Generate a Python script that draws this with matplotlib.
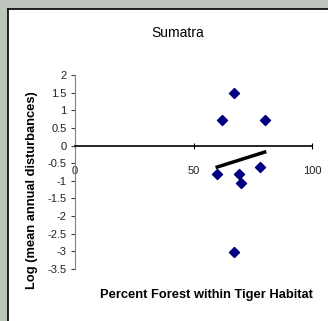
import numpy as np
import matplotlib
matplotlib.use('Agg')
import matplotlib.pyplot as plt
from matplotlib.patches import Rectangle

plt.rcParams['font.family'] = ['Liberation Sans', 'DejaVu Sans']

# percent forest vs log of mean annual disturbances
forest_pct = [67, 62, 80, 60, 69, 70, 78, 67]
log_disturb = [1.5, 0.72, 0.73, -0.8, -0.8, -1.05, -0.6, -3.03]

x_ticks = [0, 50, 100]
y_ticks = [2, 1.5, 1, 0.5, 0, -0.5, -1, -1.5, -2, -2.5, -3, -3.5]

W, H = 328, 321
fig = plt.figure(figsize=(W / 100, H / 100), dpi=100)
fig.patch.set_facecolor('#bcc4bc')

# white chart panel with a thin black edge on top and left
panel = Rectangle((8 / W, 0), 1, 1 - 9 / H, transform=fig.transFigure,
                  facecolor='white', edgecolor='none', zorder=-10)
fig.patches.append(panel)
fig.add_artist(plt.Line2D([8 / W, 8 / W], [0, 1 - 9 / H], color='black', lw=1.2,
                          transform=fig.transFigure, zorder=-5))
fig.add_artist(plt.Line2D([8 / W, 1], [1 - 9 / H, 1 - 9 / H], color='black', lw=1.2,
                          transform=fig.transFigure, zorder=-5))

ax = fig.add_axes([75 / W, 1 - 269 / H, (312 - 75) / W, (269 - 75) / H])
ax.set_facecolor('none')

ax.scatter(forest_pct, log_disturb, marker='D', s=26, color='#000080', zorder=3)

# linear trend line across the data range
slope, intercept = np.polyfit(forest_pct, log_disturb, 1)
xs = np.array([min(forest_pct), max(forest_pct)])
ax.plot(xs, slope * xs + intercept, color='black', lw=2.5, zorder=2)

ax.set_xlim(0, 100)
ax.set_ylim(-3.5, 2)
ax.set_xticks(x_ticks)
ax.set_yticks(y_ticks)
ax.set_yticklabels([('%g' % v) for v in y_ticks])

ax.spines['top'].set_visible(False)
ax.spines['right'].set_visible(False)
ax.spines['left'].set_color('#808080')
ax.spines['bottom'].set_position(('data', 0))
ax.spines['bottom'].set_linewidth(1.2)

ax.tick_params(axis='y', direction='out', length=3, width=0.8, color='#404040',
               pad=3, labelsize=8, labelcolor='#222222')
ax.tick_params(axis='x', direction='inout', length=5, width=0.8,
               pad=12, labelsize=8, labelcolor='#222222')

fig.text(178 / W, 1 - 33 / H, 'Sumatra', ha='center', va='center', fontsize=10)
fig.text(206 / W, 1 - 295 / H, 'Percent Forest within Tiger Habitat',
         ha='center', va='center', fontsize=9.3, fontweight='bold')
fig.text(32 / W, 1 - 190 / H, 'Log (mean annual disturbances)', rotation=90,
         ha='center', va='center', fontsize=9.3, fontweight='bold')

fig.savefig('out.png', dpi=100, facecolor=fig.get_facecolor())
